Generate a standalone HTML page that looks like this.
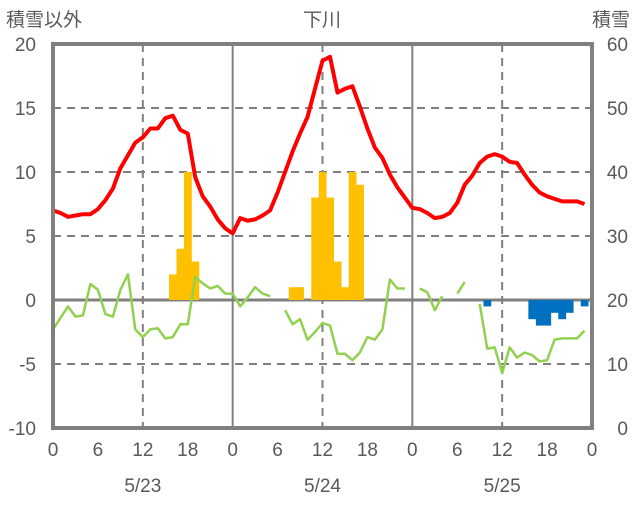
<!DOCTYPE html>
<html><head><meta charset="utf-8"><style>
body{margin:0;background:#fff}
svg text{font-family:"Liberation Sans","Noto Sans CJK JP",sans-serif;fill:#595959}
</style></head><body>
<svg id="chart" width="636" height="501" viewBox="0 0 636 501" xmlns="http://www.w3.org/2000/svg">
<g id="grid"></g>
<g id="bars"></g>
<g id="lines"></g>
<g id="frame"></g>
<g id="labels">
<text x="6" y="26" font-size="19">積雪以外</text>
<text x="322" y="26" font-size="19" text-anchor="middle">下川</text>
<text x="630" y="26" font-size="19" text-anchor="end">積雪</text>
</g>
</svg>
<script>
const temp=[7.0,6.8,6.5,6.6,6.7,6.7,7.1,7.8,8.7,10.3,11.3,12.3,12.7,13.4,13.4,14.2,14.4,13.3,13.0,9.6,8.1,7.3,6.3,5.6,
5.2,6.4,6.2,6.3,6.6,7.0,8.4,10.0,11.6,13.0,14.3,16.5,18.7,19.0,16.2,16.5,16.7,15.1,13.4,11.9,11.1,9.8,8.8,8.0,
7.2,7.1,6.8,6.4,6.5,6.8,7.6,9.0,9.7,10.7,11.2,11.4,11.2,10.8,10.7,9.8,9.0,8.4,8.1,7.9,7.7,7.7,7.7,7.5];
const other=[-2.3,-1.4,-0.5,-1.3,-1.2,1.25,0.8,-1.1,-1.3,0.8,2.0,-2.3,-2.9,-2.3,-2.2,-3.0,-2.9,-1.9,-1.9,1.8,1.3,0.9,1.1,0.5,
0.5,-0.5,0.2,1.0,0.5,0.3,null,-0.8,-1.9,-1.5,-3.1,-2.5,-1.8,-2.0,-4.2,-4.2,-4.7,-4.1,-2.9,-3.1,-2.3,1.6,0.9,0.9,
null,0.9,0.6,-0.8,0.3,null,0.5,1.4,null,-0.3,-3.8,-3.7,-5.7,-3.7,-4.5,-4.1,-4.3,-4.8,-4.7,-3.1,-3.0,-3.0,-3.0,-2.4];
const snowHours=[16,17,18,19,32,33,35,36,37,38,39,40,41,58,64,65,66,67,68,69,71];
const snowValues=[24,28,40,26,22,22,36,40,36,26,22,40,38,19,17,16,16,18,17,18,19];
const snowBase=20;
const leftTicks=[20,15,10,5,0,-5,-10];
const rightTicks=[60,50,40,30,20,10,0];
const hourTicks=[0,6,12,18,0,6,12,18,0,6,12,18,0];
const dates=["5/23","5/24","5/25"];
const X0=53,X1=592,YT=44,YB=428;
const x=h=>X0+(X1-X0)*h/72;
const yL=v=>YT+(20-v)*(YB-YT)/30;
const yR=v=>YT+(60-v)*(YB-YT)/60;
const NS="http://www.w3.org/2000/svg";
function mk(tag,attrs,parent){const e=document.createElementNS(NS,tag);for(const k in attrs)e.setAttribute(k,attrs[k]);parent.appendChild(e);return e;}
const grid=document.getElementById('grid'),bars=document.getElementById('bars'),lines=document.getElementById('lines'),frame=document.getElementById('frame'),labels=document.getElementById('labels');
leftTicks.forEach(v=>{if(v===20||v===-10||v===0)return;const l=mk('line',{x1:X0,x2:X1,y1:yL(v),y2:yL(v),stroke:'#808080','stroke-width':2,'stroke-dasharray':'8,6'},grid);

});
[12,36,60].forEach(h=>{const l=mk('line',{x1:x(h),x2:x(h),y1:YT,y2:YB,stroke:'#808080','stroke-width':2,'stroke-dasharray':'8,6'},grid);

});
[24,48].forEach(h=>{const l=mk('line',{x1:x(h),x2:x(h),y1:YT,y2:YB,stroke:'#808080','stroke-width':2},grid);

});
const bw=(X1-X0)/72;
snowHours.forEach((h,i)=>{const v=snowValues[i];const y1=yR(Math.max(v,snowBase)),y2=yR(Math.min(v,snowBase));
const r=mk('rect',{x:x(h)-bw/2,y:y1,width:bw+0.3,height:y2-y1,fill:v>=snowBase?'#FFC000':'#0070C0'},bars);

});
const zl=mk('line',{x1:X0,x2:X1,y1:yL(0),y2:yL(0),stroke:'#808080','stroke-width':3},grid);


function path(arr,f){let d='',pen=false;arr.forEach((v,h)=>{if(v===null){pen=false;return;}d+=(pen?'L':'M')+x(h).toFixed(1)+','+f(v).toFixed(1);pen=true;});return d;}
const g=mk('path',{d:path(other,yL),fill:'none',stroke:'#92D050','stroke-width':2.5,'stroke-linejoin':'round'},lines);


const t=mk('path',{d:path(temp,yL),fill:'none',stroke:'#FF0000','stroke-width':4,'stroke-linejoin':'round'},lines);


const b=mk('rect',{x:X0,y:YT,width:X1-X0,height:YB-YT,fill:'none',stroke:'#808080','stroke-width':4},frame);


leftTicks.forEach(v=>{const e=mk('text',{x:36,y:yL(v)+7,'font-size':19,'text-anchor':'end'},labels);e.textContent=v;

});
rightTicks.forEach(v=>{const e=mk('text',{x:628,y:yR(v)+7,'font-size':19,'text-anchor':'end'},labels);e.textContent=v;

});
hourTicks.forEach((v,i)=>{const e=mk('text',{x:x(i*6),y:456,'font-size':19,'text-anchor':'middle'},labels);e.textContent=v;

});
dates.forEach((d,i)=>{const e=mk('text',{x:x(12+24*i),y:492,'font-size':19,'text-anchor':'middle'},labels);e.textContent=d;

});
</script>
</body></html>
